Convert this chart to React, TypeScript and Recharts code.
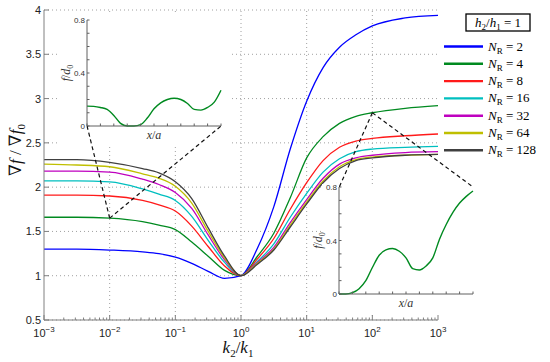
import React from 'react';
import { LineChart, Line, XAxis, YAxis, CartesianGrid, ReferenceLine, Legend } from 'recharts';

// k2/k1 as log10 values
const logK = [-3, -2.5, -2, -1.5, -1.25, -1, -0.75, -0.5, -0.25, 0, 0.25, 0.5, 0.75, 1, 1.25, 1.5, 1.75, 2, 2.5, 3];

const nr2 = [1.30, 1.30, 1.29, 1.27, 1.25, 1.21, 1.14, 1.05, 0.97, 1.00, 1.31, 1.78, 2.43, 2.97, 3.35, 3.58, 3.72, 3.82, 3.91, 3.94];
const nr4 = [1.66, 1.66, 1.65, 1.61, 1.57, 1.52, 1.38, 1.22, 1.06, 1.00, 1.22, 1.48, 1.88, 2.33, 2.57, 2.72, 2.80, 2.84, 2.89, 2.92];
const nr8 = [1.91, 1.91, 1.90, 1.85, 1.80, 1.73, 1.56, 1.33, 1.11, 1.00, 1.19, 1.42, 1.75, 2.05, 2.30, 2.45, 2.52, 2.55, 2.58, 2.60];
const nr16 = [2.07, 2.07, 2.06, 1.98, 1.92, 1.85, 1.67, 1.40, 1.15, 1.00, 1.16, 1.36, 1.66, 1.93, 2.17, 2.32, 2.40, 2.43, 2.45, 2.46];
const nr32 = [2.18, 2.18, 2.17, 2.09, 2.03, 1.94, 1.76, 1.46, 1.18, 1.00, 1.15, 1.32, 1.60, 1.86, 2.10, 2.26, 2.33, 2.36, 2.39, 2.40];
const nr64 = [2.26, 2.25, 2.23, 2.15, 2.10, 2.01, 1.82, 1.50, 1.20, 1.00, 1.14, 1.30, 1.57, 1.83, 2.07, 2.23, 2.31, 2.34, 2.36, 2.37];
const nr128 = [2.31, 2.31, 2.28, 2.21, 2.16, 2.06, 1.87, 1.54, 1.22, 1.00, 1.13, 1.29, 1.55, 1.81, 2.05, 2.21, 2.30, 2.33, 2.36, 2.37];

const seriesKeys = ['n2', 'n4', 'n8', 'n16', 'n32', 'n64', 'n128'];
const seriesLabels = ['2', '4', '8', '16', '32', '64', '128'];
const seriesValues = [nr2, nr4, nr8, nr16, nr32, nr64, nr128];
const seriesColors = ['#0000ff', '#008a20', '#ff1a1a', '#00bfbf', '#bf00bf', '#bfbf00', '#404040'];

// inset profiles, x/a normalised 0..1
const insetT = [0, 0.05, 0.1, 0.15, 0.2, 0.25, 0.3, 0.35, 0.4, 0.45, 0.5, 0.55, 0.6, 0.65, 0.7, 0.75, 0.8, 0.85, 0.9, 0.95, 1];
const leftInsetF = [0.15, 0.148, 0.14, 0.125, 0.08, 0.02, 0.0, 0.0, 0.01, 0.06, 0.13, 0.175, 0.2, 0.21, 0.2, 0.17, 0.125, 0.12, 0.14, 0.18, 0.27];
const rightInsetF = [0, 0.0, 0.01, 0.04, 0.1, 0.2, 0.29, 0.33, 0.34, 0.32, 0.27, 0.19, 0.18, 0.21, 0.27, 0.41, 0.52, 0.61, 0.68, 0.73, 0.77];

const decades = [-3, -2, -1, 0, 1, 2, 3];
const minorSteps = [2, 3, 4, 5, 6, 7, 8, 9];
const yTicks = [0.5, 1, 1.5, 2, 2.5, 3, 3.5, 4];
const insetXTicks = [0, 0.1, 0.2, 0.3, 0.4, 0.5, 0.6, 0.7, 0.8, 0.9, 1];
const insetYTicks = [0, 0.1, 0.2, 0.3, 0.4, 0.5, 0.6, 0.7, 0.8];
const insetYLabels = [0, 0.4, 0.8];

const xTicks = [...decades, ...decades.slice(0, -1).flatMap((d) => minorSteps.map((m) => d + Math.log10(m)))].sort((a, b) => a - b);

const mainRows = logK.map((x, i) => {
  const row: any = { x };
  seriesKeys.forEach((k, s) => {
    row[k] = seriesValues[s][i];
  });
  return row;
});

const FRAME = '#808080';
const INSET_FRAME = '#606060';
const SANS = "'Liberation Sans', Arial, sans-serif";
const SERIF = "'Liberation Serif', 'DejaVu Serif', 'Times New Roman', serif";
const GREEN = '#008a20';
const serifStyle = { fontFamily: SERIF };

const isMajor = (v: number) => Math.abs(v - Math.round(v)) < 1e-6;

const BottomTick = ({ x, y, payload }: any) => {
  const v = payload.value;
  const major = isMajor(v);
  const p = Math.round(v);
  return (
    <g>
      <line x1={x} x2={x} y1={y} y2={y - (major ? 5 : 2.5)} stroke={FRAME} />
      {major && (
        <text x={x} y={y + 17} textAnchor="middle" fontFamily={SANS} fontSize={11} fill="#222">
          10
          <tspan dy={-5} fontSize={8}>{p < 0 ? `\u2212${-p}` : `${p}`}</tspan>
        </text>
      )}
    </g>
  );
};

const TopTick = ({ x, y, payload }: any) => (
  <line x1={x} x2={x} y1={y} y2={y + (isMajor(payload.value) ? 5 : 2.5)} stroke={FRAME} />
);

const LeftTick = ({ x, y, payload }: any) => (
  <g>
    <line x1={x} x2={x + 5} y1={y} y2={y} stroke={FRAME} />
    <text x={x - 3} y={y + 4} textAnchor="end" fontFamily={SANS} fontSize={11} fill="#222">
      {payload.value}
    </text>
  </g>
);

const RightTick = ({ x, y }: any) => <line x1={x} x2={x - 5} y1={y} y2={y} stroke={FRAME} />;

const XTitle = ({ viewBox }: any) => (
  <text x={viewBox.x + viewBox.width / 2 - 3} y={viewBox.y + 33} textAnchor="middle" style={serifStyle} fontSize={17} fill="#111">
    <tspan fontStyle="italic">k</tspan>
    <tspan dy={4} fontSize={11}>2</tspan>
    <tspan dy={-4}>/</tspan>
    <tspan fontStyle="italic">k</tspan>
    <tspan dy={4} fontSize={11}>1</tspan>
  </text>
);

const YTitle = () => (
  <text x={21} y={150} transform="rotate(-90, 21, 150)" textAnchor="middle" style={serifStyle} fontSize={17} fill="#111">
    {'\u2207'}
    <tspan fontStyle="italic">f</tspan>
    {' / \u2207'}
    <tspan fontStyle="italic">f</tspan>
    <tspan dy={4} fontSize={11}>0</tspan>
  </text>
);

const renderLegend = () => (
  <svg width={110} height={165}>
    <rect x={26} y={14} width={64} height={17} fill="#fff" stroke="#000" strokeWidth={1.3} />
    <text x={58} y={27} textAnchor="middle" style={serifStyle} fontSize={13} fill="#000">
      <tspan fontStyle="italic">h</tspan>
      <tspan dy={3} fontSize={9}>2</tspan>
      <tspan dy={-3}>/</tspan>
      <tspan fontStyle="italic">h</tspan>
      <tspan dy={3} fontSize={9}>1</tspan>
      <tspan dy={-3}> = 1</tspan>
    </text>
    {seriesLabels.map((label, i) => {
      const cy = 46.5 + i * 17.3;
      return (
        <g key={`leg-${label}`}>
          <line x1={4} x2={43} y1={cy} y2={cy} stroke={seriesColors[i]} strokeWidth={2.4} />
          <text x={48} y={cy + 4} style={serifStyle} fontSize={13} fill="#000">
            <tspan fontStyle="italic">N</tspan>
            <tspan dy={3} fontSize={9}>R</tspan>
            <tspan dy={-3}>{` = ${label}`}</tspan>
          </text>
        </g>
      );
    })}
  </svg>
);

const insetLabelSet = (v: number) => insetYLabels.some((l) => Math.abs(l - v) < 1e-6);

const InsetBottomTick = ({ x, y }: any) => <line x1={x} x2={x} y1={y} y2={y - 2.5} stroke={INSET_FRAME} />;
const InsetTopTick = ({ x, y }: any) => <line x1={x} x2={x} y1={y} y2={y + 2.5} stroke={INSET_FRAME} />;
const InsetRightTick = ({ x, y }: any) => <line x1={x} x2={x - 2.5} y1={y} y2={y} stroke={INSET_FRAME} />;
const InsetLeftTick = ({ x, y, payload }: any) => (
  <g>
    <line x1={x} x2={x + 2.5} y1={y} y2={y} stroke={INSET_FRAME} />
    {insetLabelSet(payload.value) && (
      <text x={x - 2} y={y + 3} textAnchor="end" fontFamily={SANS} fontSize={8} fill="#333">
        {payload.value === 0 ? '0' : String(payload.value)}
      </text>
    )}
  </g>
);

const InsetXTitle = ({ viewBox }: any) => (
  <text x={viewBox.x + viewBox.width / 2} y={viewBox.y + 13} textAnchor="middle" style={serifStyle} fontSize={12} fill="#333">
    <tspan fontStyle="italic">x</tspan>/<tspan fontStyle="italic">a</tspan>
  </text>
);

const InsetYTitle = ({ viewBox }: any) => {
  const cx = viewBox.x + viewBox.width - 17;
  const cy = viewBox.y + viewBox.height / 2;
  return (
    <text x={cx} y={cy} transform={`rotate(-90, ${cx}, ${cy})`} textAnchor="middle" style={serifStyle} fontSize={12} fill="#333">
      <tspan fontStyle="italic">f</tspan>
      {'/'}
      <tspan fontStyle="italic">d</tspan>
      <tspan dy={3} fontSize={8}>0</tspan>
    </text>
  );
};

interface InsetProps {
  values: number[];
  left: number;
  top: number;
  width: number;
  height: number;
  bgLeft: number;
  margin: { top: number; right: number; bottom: number; left: number };
  yAxisWidth: number;
  xAxisHeight: number;
}

const InsetChart: React.FC<InsetProps> = ({ values, left, top, width, height, bgLeft, margin, yAxisWidth, xAxisHeight }) => {
  const rows = insetT.map((t, i) => ({ t, f: values[i] }));
  return (
    <div style={{ position: 'absolute', left, top, width, height }}>
      <div style={{ position: 'absolute', left: bgLeft, top: 0, right: 0, bottom: 0, background: '#fff' }} />
      <div style={{ position: 'absolute', left: 0, top: 0 }}>
        <LineChart width={width} height={height} data={rows} margin={margin}>
          <XAxis dataKey="t" type="number" domain={[0, 1]} ticks={insetXTicks} interval={0} height={xAxisHeight}
            tickSize={0} tickMargin={0} tickLine={false} axisLine={{ stroke: INSET_FRAME }} tick={InsetBottomTick} label={<InsetXTitle />} />
          <XAxis xAxisId="top" orientation="top" type="number" domain={[0, 1]} ticks={insetXTicks} interval={0} height={0}
            allowDataOverflow tickSize={0} tickMargin={0} tickLine={false} axisLine={{ stroke: INSET_FRAME }} tick={InsetTopTick} />
          <YAxis type="number" domain={[0, 0.8]} ticks={insetYTicks} interval={0} width={yAxisWidth}
            tickSize={0} tickMargin={0} tickLine={false} axisLine={{ stroke: INSET_FRAME }} tick={InsetLeftTick} label={<InsetYTitle />} />
          <YAxis yAxisId="right" orientation="right" type="number" domain={[0, 0.8]} ticks={insetYTicks} interval={0} width={0}
            allowDataOverflow tickSize={0} tickMargin={0} tickLine={false} axisLine={{ stroke: INSET_FRAME }} tick={InsetRightTick} />
          <Line type="monotone" dataKey="f" stroke={GREEN} strokeWidth={1.4} dot={false} isAnimationActive={false} />
        </LineChart>
      </div>
    </div>
  );
};

const W = 550;
const H = 362;
const dashed = { stroke: '#111', strokeWidth: 1.2, strokeDasharray: '4 3' };

const App: React.FC = () => {
  return (
    <div style={{ position: 'absolute', left: 0, top: 0, width: W, height: H, background: '#fff' }}>
      <div style={{ position: 'absolute', left: 0, top: 0 }}>
        <LineChart width={W} height={H} data={mainRows} margin={{ top: 10, right: 112, bottom: 12, left: 4 }}>
          <CartesianGrid vertical={false} stroke="#a0a0a0" strokeDasharray="1 3" />
          {decades.slice(1, -1).map((d) => (
            <ReferenceLine key={`vg-${d}`} x={d} stroke="#a0a0a0" strokeDasharray="1 3" />
          ))}
          <XAxis dataKey="x" type="number" domain={[-3, 3]} ticks={xTicks} interval={0} height={30}
            tickSize={0} tickMargin={0} tickLine={false} axisLine={{ stroke: FRAME }} tick={BottomTick} label={<XTitle />} />
          <XAxis xAxisId="top" orientation="top" type="number" domain={[-3, 3]} ticks={xTicks} interval={0} height={0}
            allowDataOverflow tickSize={0} tickMargin={0} tickLine={false} axisLine={{ stroke: FRAME }} tick={TopTick} />
          <YAxis type="number" domain={[0.5, 4]} ticks={yTicks} interval={0} width={40}
            tickSize={0} tickMargin={0} tickLine={false} axisLine={{ stroke: FRAME }} tick={LeftTick} label={<YTitle />} />
          <YAxis yAxisId="right" orientation="right" type="number" domain={[0.5, 4]} ticks={yTicks} interval={0} width={0}
            allowDataOverflow tickSize={0} tickMargin={0} tickLine={false} axisLine={{ stroke: FRAME }} tick={RightTick} />
          {seriesKeys.map((k, s) => (
            <Line key={k} type="monotone" dataKey={k} name={seriesLabels[s]} stroke={seriesColors[s]}
              strokeWidth={1.3} dot={false} isAnimationActive={false} />
          ))}
          <Legend layout="vertical" align="center" verticalAlign="middle" content={renderLegend}
            wrapperStyle={{ left: 440, top: 0, width: 110, height: 165 }} />
        </LineChart>
      </div>

      <InsetChart values={leftInsetF} left={60} top={14} width={172} height={132} bgLeft={0}
        margin={{ top: 6, right: 11, bottom: 0, left: 0 }} yAxisWidth={27} xAxisHeight={20} />
      <InsetChart values={rightInsetF} left={312} top={184} width={168} height={128} bgLeft={10}
        margin={{ top: 3, right: 7, bottom: 0, left: 0 }} yAxisWidth={27} xAxisHeight={18} />

      <div style={{ position: 'absolute', left: 0, top: 0, pointerEvents: 'none' }}>
        <LineChart width={W} height={H} data={mainRows} margin={{ top: 10, right: 112, bottom: 42, left: 44 }}>
          <XAxis dataKey="x" type="number" domain={[-3, 3]} hide height={0} allowDataOverflow />
          <YAxis type="number" domain={[0.5, 4]} hide width={0} allowDataOverflow />
          <ReferenceLine segment={[{ x: -2, y: 1.65 }, { x: -2.344, y: 2.69 }]} ifOverflow="visible" {...dashed} />
          <ReferenceLine segment={[{ x: -2, y: 1.65 }, { x: -0.304, y: 2.69 }]} ifOverflow="visible" {...dashed} />
          <ReferenceLine segment={[{ x: 2, y: 2.84 }, { x: 1.496, y: 2.0 }]} ifOverflow="visible" {...dashed} />
          <ReferenceLine segment={[{ x: 2, y: 2.84 }, { x: 3.536, y: 2.0 }]} ifOverflow="visible" {...dashed} />
        </LineChart>
      </div>
    </div>
  );
};

export default App;
